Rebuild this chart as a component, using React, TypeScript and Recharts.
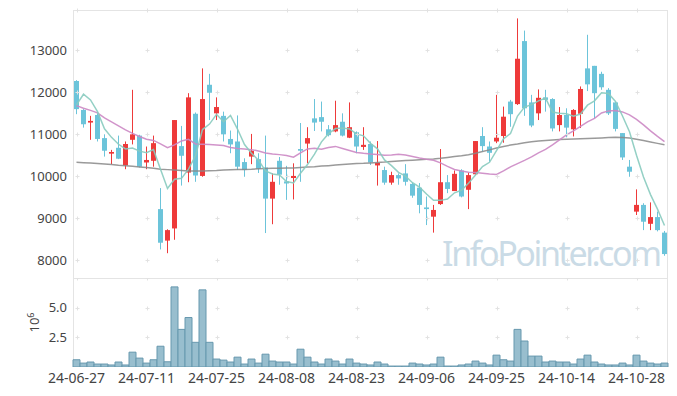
import React from 'react';
import { ComposedChart, Bar, Line, XAxis, YAxis, ReferenceDot } from 'recharts';

const dates = [
  '24-06-27','24-06-28','24-07-01','24-07-02','24-07-03','24-07-04','24-07-05','24-07-08','24-07-09','24-07-10',
  '24-07-11','24-07-12','24-07-15','24-07-16','24-07-17','24-07-18','24-07-19','24-07-22','24-07-23','24-07-24',
  '24-07-25','24-07-26','24-07-29','24-07-30','24-07-31','24-08-01','24-08-02','24-08-05','24-08-06','24-08-07',
  '24-08-08','24-08-09','24-08-12','24-08-13','24-08-14','24-08-16','24-08-19','24-08-20','24-08-21','24-08-22',
  '24-08-23','24-08-26','24-08-27','24-08-28','24-08-29','24-08-30','24-09-02','24-09-03','24-09-04','24-09-05',
  '24-09-06','24-09-09','24-09-10','24-09-11','24-09-12','24-09-13','24-09-19','24-09-20','24-09-23','24-09-24',
  '24-09-25','24-09-26','24-09-27','24-09-30','24-10-02','24-10-04','24-10-07','24-10-08','24-10-10','24-10-11',
  '24-10-14','24-10-15','24-10-16','24-10-17','24-10-18','24-10-21','24-10-22','24-10-23','24-10-24','24-10-25',
  '24-10-28','24-10-29','24-10-30','24-10-31','24-11-01',
];

const opens = [
  12260,11570,11270,11450,10900,10530,10670,10250,10860,10960,
  10320,10360,9210,8460,8750,10710,10080,11480,10000,12170,
  11490,11430,10880,10820,10330,10460,10400,10200,9460,10360,
  9870,9950,10640,10770,11370,11400,11110,11060,11290,10910,
  11040,10690,10760,10250,10140,9840,10020,10060,9810,9720,
  9250,9030,9330,9850,9640,10130,9670,10040,10950,10700,
  10820,10950,11770,11710,13210,11750,11490,11870,11830,11210,
  11450,11110,11480,12560,12620,12430,12050,11750,11020,10220,
  9150,9310,8860,9020,8650,
];
const highs = [
  12280,11590,11430,11490,10990,10620,10960,10820,12050,10980,
  10700,10960,9710,8730,11330,11190,11970,11510,12560,12430,
  11870,11530,11080,11440,10420,11000,10540,10960,10060,10450,
  10240,10300,11260,11160,11830,11770,11210,11790,11490,11750,
  11060,11160,10820,10830,10220,10100,10060,10280,9840,9830,
  9510,9310,10640,10020,10130,10160,10080,10830,11160,10820,
  11930,11650,11810,13750,13460,11930,12060,12050,11850,11640,
  11610,11590,12130,13360,12620,12480,12090,11770,11020,10380,
  9680,9350,9370,9150,8690,
];
const lows = [
  11470,11150,10860,10820,10460,10280,10400,10160,10750,10200,
  10160,10220,8250,8160,8480,9770,9850,9860,9980,11330,
  11330,10820,10540,10140,9980,10280,10070,8640,8850,9790,
  9430,9440,9860,10300,11070,11060,10940,11040,10940,10900,
  10540,10620,10260,9770,9790,9790,9790,9770,9480,9110,
  8830,8650,9310,9590,9640,9490,9210,10020,10580,10340,
  10780,10790,11170,11690,11430,11160,11330,11530,11060,11060,
  10920,10940,11140,12020,11370,12050,11450,11060,10380,9980,
  9070,8710,8710,8680,8100,
];
const closes = [
  11590,11230,11310,10880,10600,10570,10410,10760,10990,10220,
  10380,10780,8410,8710,11330,10480,11870,10010,11830,11980,
  11640,10990,10750,10220,10140,10600,10170,9460,9860,10030,
  9820,10000,10600,10900,11270,11290,10970,11210,10960,11160,
  10700,10740,10320,10310,9840,10020,9940,9860,9530,9310,
  9210,9190,9850,9690,10050,9510,10020,10830,10710,10550,
  10910,11410,11470,12790,11610,11200,11860,11810,11130,11450,
  11150,11570,12070,12180,11970,12110,11490,11120,10440,10100,
  9310,8910,9020,8710,8140,
];
const ma5 = [
  11690,11945,11810,11530,11122,10918,10754,10644,10666,10590,
  10552,10626,10156,9700,9922,9942,10160,10480,11104,11234,
  11466,11290,11438,11116,10748,10540,10376,10118,10046,10024,
  9868,9834,10062,10270,10518,10812,11006,11128,11140,11118,
  11000,10954,10776,10646,10382,10246,10086,9994,9838,9732,
  9570,9420,9418,9450,9598,9658,9824,10020,10224,10324,
  10604,10882,11010,11426,11638,11696,11786,11854,11522,11490,
  11480,11422,11474,11684,11788,11980,11964,11774,11426,11052,
  10492,9976,9556,9210,8818,
];
const ma20 = [
  11674,11612,11560,11500,11380,11286,11190,11095,11012,10940,
  10874,10845,10762,10674,10738,10833,10870,10762,10755,10750,
  10738,10722,10679,10655,10643,10626,10595,10548,10524,10507,
  10488,10445,10550,10643,10660,10636,10679,10703,10655,10607,
  10560,10540,10524,10512,10493,10500,10517,10500,10464,10429,
  10398,10374,10310,10226,10155,10119,10088,10079,10064,10048,
  10036,10119,10214,10293,10369,10452,10548,10631,10738,10857,
  10976,11071,11179,11286,11369,11500,11548,11555,11524,11452,
  11345,11214,11071,10940,10817,
];
const ma60 = [
  10326,10315,10305,10295,10285,10270,10255,10245,10230,10215,
  10200,10185,10160,10150,10140,10130,10120,10118,10120,10125,
  10130,10140,10145,10150,10155,10160,10170,10175,10180,10183,
  10186,10190,10200,10210,10220,10235,10245,10258,10270,10285,
  10295,10300,10310,10320,10330,10345,10355,10365,10375,10385,
  10395,10405,10420,10440,10460,10480,10505,10540,10580,10620,
  10665,10700,10735,10760,10790,10815,10830,10845,10855,10865,
  10874,10880,10886,10892,10898,10905,10912,10920,10915,10900,
  10875,10845,10810,10775,10740,
];
// volume in millions of shares (axis unit 10^6)
const volumes = [
  0.61,0.33,0.42,0.25,0.25,0.17,0.42,0.17,1.25,0.75,
  0.33,0.61,1.75,0.44,6.75,3.17,4.17,2.08,6.5,2.08,
  0.67,0.58,0.42,0.83,0.25,0.67,0.33,1.08,0.5,0.42,
  0.42,0.25,1.5,0.83,0.42,0.25,0.67,0.5,0.25,0.67,
  0.33,0.25,0.17,0.42,0.25,0.08,0.08,0.08,0.33,0.25,
  0.17,0.25,0.83,0.08,0.08,0.17,0.25,0.5,0.33,0.17,
  1.0,0.61,0.5,3.17,2.19,0.92,0.92,0.42,0.5,0.42,
  0.42,0.25,0.67,1.0,0.42,0.25,0.17,0.17,0.33,0.17,
  1.0,0.5,0.33,0.25,0.33,
];

const priceTicks = [8000, 9000, 10000, 11000, 12000, 13000];
const volTicks = [2.5, 5.0];
const priceDomain = [7570, 13950];
const volDomain = [0, 7.5];

const data = dates.map((d, i) => ({
  date: d,
  open: opens[i],
  high: highs[i],
  low: lows[i],
  close: closes[i],
  ma5: ma5[i],
  ma20: ma20[i],
  ma60: ma60[i],
  vol: volumes[i],
}));

const UP = '#ee3a3a';
const DOWN = '#6cc4da';
const FONT = '"Noto Sans", "Open Sans", sans-serif';
const gridX = dates.filter((_, i) => i % 10 === 0);

const Candle = (props: any) => {
  const { x, y, width, height, payload } = props;
  if (x == null || y == null || !payload) return null;
  const { open, close, high, low } = payload;
  const top = Math.min(y, y + height);
  const h = Math.abs(height);
  const px = (v: number) => (high === low ? top : top + ((high - v) / (high - low)) * h);
  const cx = Math.floor(x + width / 2) + 0.5;
  const color = close >= open ? UP : DOWN;
  const bTop = px(Math.max(open, close));
  const bBot = px(Math.min(open, close));
  const bw = 5;
  return (
    <g>
      <line x1={cx} x2={cx} y1={top} y2={top + h} stroke={color} strokeWidth={1} />
      <rect x={cx - bw / 2} y={bTop} width={bw} height={Math.max(1.5, bBot - bTop)} fill={color} />
    </g>
  );
};

const Cross = (props: any) => {
  const { cx, cy } = props;
  if (cx == null || cy == null) return null;
  const x = Math.round(cx) + 0.5;
  const y = Math.round(cy) + 0.5;
  return <path d={`M${x - 2},${y}h4M${x},${y - 2}v4`} stroke="#e2e2e2" strokeWidth={1} fill="none" />;
};

const tickStyle = { fontSize: 13, fill: '#444', fontFamily: FONT };

export default function App() {
  return (
    <div style={{ position: 'absolute', left: 0, top: 0, width: 677, height: 396, background: '#fff', overflow: 'hidden' }}>
      <svg width={677} height={396} style={{ position: 'absolute', left: 0, top: 0 }}>
        <text x={442} y={266} fontSize={34} letterSpacing={-2.4} fill="#cadbe6" fontFamily={FONT}>InfoPointer.com</text>
        <g stroke="#e4e4e4" strokeWidth={1}>
          <line x1={73.5} x2={73.5} y1={10} y2={367} />
          <line x1={667.5} x2={667.5} y1={10} y2={367} />
          <line x1={73} x2={668} y1={10.5} y2={10.5} />
          <line x1={73} x2={668} y1={278.5} y2={278.5} />
        </g>
        <text transform="translate(38.5,332.5) rotate(-90)" fontSize={13} fill="#444" fontFamily={FONT}>
          10<tspan dy={-5} fontSize={9}>6</tspan>
        </text>
      </svg>
      <div style={{ position: 'absolute', left: 0, top: 0 }}>
        <ComposedChart width={677} height={278} data={data} margin={{ top: 10, right: 9, bottom: 0, left: 0 }} barCategoryGap={0}>
          <XAxis dataKey="date" hide />
          <YAxis
            domain={priceDomain}
            ticks={priceTicks}
            allowDataOverflow
            width={73}
            axisLine={false}
            tickLine={false}
            tickSize={0}
            tickMargin={6}
            tick={tickStyle}
          />
          {gridX.map((gx) =>
            [...priceTicks, priceDomain[1]].map((gy) => (
              <ReferenceDot key={`${gx}-${gy}`} x={gx} y={gy} r={2} ifOverflow="visible" shape={<Cross />} />
            ))
          )}
          <Bar dataKey={(d: any) => [d.low, d.high]} shape={<Candle />} isAnimationActive={false} />
          <Line type="linear" dataKey="ma60" stroke="#888" strokeWidth={1.5} strokeOpacity={0.85} dot={false} activeDot={false} isAnimationActive={false} />
          <Line type="linear" dataKey="ma20" stroke="#cc88c4" strokeWidth={1.5} strokeOpacity={0.9} dot={false} activeDot={false} isAnimationActive={false} />
          <Line type="linear" dataKey="ma5" stroke="#88cbbf" strokeWidth={1.5} strokeOpacity={0.9} dot={false} activeDot={false} isAnimationActive={false} />
        </ComposedChart>
      </div>
      <div style={{ position: 'absolute', left: 0, top: 278 }}>
        <ComposedChart width={677} height={118} data={data} margin={{ top: 0, right: 9, bottom: 0, left: 0 }} barCategoryGap={0} barGap={0}>
          <XAxis
            dataKey="date"
            interval={9}
            axisLine={false}
            tickLine={false}
            tickSize={6}
            tickMargin={0}
            height={29}
            tick={{ fontSize: 14, fill: '#444', fontFamily: FONT }}
          />
          <YAxis
            domain={volDomain}
            ticks={volTicks}
            allowDataOverflow
            width={73}
            axisLine={false}
            tickLine={false}
            tickSize={0}
            tickMargin={6}
            tickFormatter={(v: number) => v.toFixed(1)}
            tick={tickStyle}
          />
          {gridX.map((gx) =>
            [...volTicks, volDomain[1]].map((gy) => (
              <ReferenceDot key={`v${gx}-${gy}`} x={gx} y={gy} r={2} ifOverflow="visible" shape={<Cross />} />
            ))
          )}
          <Bar dataKey="vol" fill="#98bece" stroke="#6798ae" strokeWidth={1} isAnimationActive={false} />
        </ComposedChart>
      </div>
    </div>
  );
}
